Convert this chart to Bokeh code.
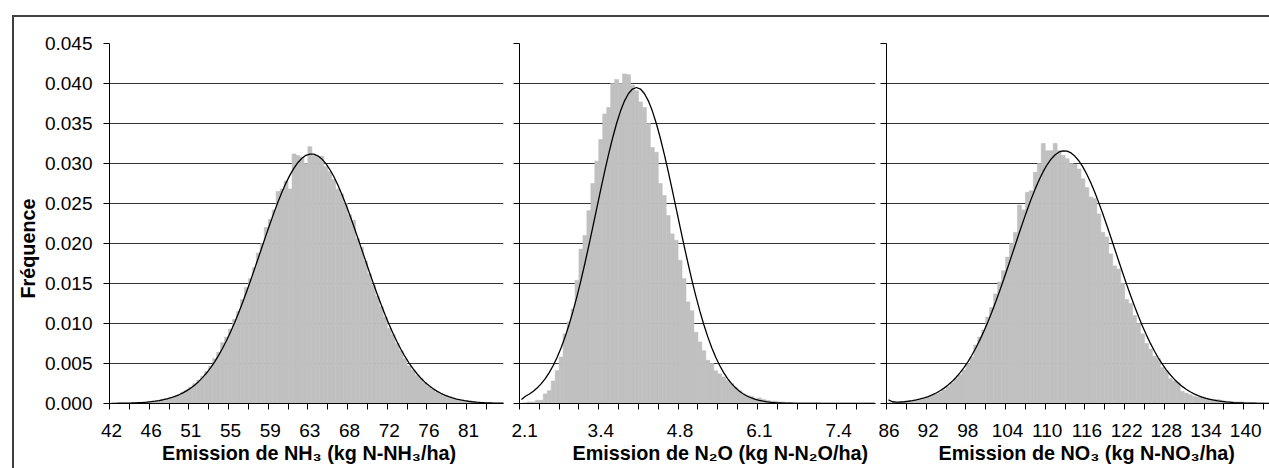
from bokeh.plotting import figure
from bokeh.layouts import row
from bokeh.models import Range1d, FixedTicker, NumeralTickFormatter, Title
from bokeh.embed import file_html
from bokeh.resources import INLINE

FONT = "Liberation Sans"

# ---------------- data ----------------
y_ticks = [0.000, 0.005, 0.010, 0.015, 0.020, 0.025, 0.030, 0.035, 0.040, 0.045]
y_title = "Fréquence"

# Panel 1 : NH3
nh3_start = 42.0
nh3_bin = 0.428
nh3_labels = ["42", "46", "51", "55", "59", "63", "68", "72", "76", "81"]
nh3_title = "Emission de NH₃ (kg N-NH₃/ha)"
nh3_freq = [
    0.00001, 0.00002, 0.00002, 0.00004, 0.00004, 0.00006, 0.00008, 0.00011, 0.00013, 0.00019,
    0.00024, 0.00028, 0.00039, 0.00046, 0.00061, 0.00074, 0.00092, 0.00109, 0.00142, 0.00168,
    0.00205, 0.00248, 0.00290, 0.00340, 0.00400, 0.00470, 0.00560, 0.00640, 0.00760, 0.00830,
    0.00930, 0.01050, 0.01150, 0.01300, 0.01450, 0.01560, 0.01700, 0.01880, 0.02000, 0.02200,
    0.02300, 0.02420, 0.02650, 0.02680, 0.02780, 0.02680, 0.03120, 0.03100, 0.03080, 0.03000,
    0.03210, 0.03100, 0.03090, 0.03090, 0.02960, 0.02900, 0.02800, 0.02680, 0.02620, 0.02500,
    0.02360, 0.02290, 0.02060, 0.01950, 0.01780, 0.01620, 0.01480, 0.01340, 0.01210, 0.01080,
    0.00940, 0.00860, 0.00750, 0.00660, 0.00560, 0.00470, 0.00420, 0.00350, 0.00310, 0.00260,
    0.00210, 0.00180, 0.00140, 0.00120, 0.00095, 0.00078, 0.00064, 0.00050, 0.00040, 0.00032,
    0.00025, 0.00019, 0.00015, 0.00012, 0.00009, 0.00007, 0.00005, 0.00004, 0.00003, 0.00002,
]
nh3_fit = [
    0.00002, 0.00002, 0.00003, 0.00004, 0.00005, 0.00006, 0.00008, 0.00011, 0.00014, 0.00018,
    0.00023, 0.00029, 0.00037, 0.00047, 0.00058, 0.00072, 0.00089, 0.00109, 0.00133, 0.00161,
    0.00194, 0.00232, 0.00276, 0.00327, 0.00384, 0.00449, 0.00521, 0.00602, 0.00691, 0.00788,
    0.00893, 0.01007, 0.01128, 0.01256, 0.01391, 0.01530, 0.01673, 0.01819, 0.01966, 0.02111,
    0.02254, 0.02392, 0.02524, 0.02646, 0.02758, 0.02858, 0.02943, 0.03013, 0.03066, 0.03102,
    0.03118, 0.03117, 0.03096, 0.03057, 0.03001, 0.02928, 0.02840, 0.02737, 0.02623, 0.02498,
    0.02365, 0.02226, 0.02082, 0.01936, 0.01790, 0.01644, 0.01502, 0.01363, 0.01230, 0.01103,
    0.00984, 0.00872, 0.00768, 0.00672, 0.00585, 0.00506, 0.00436, 0.00372, 0.00316, 0.00267,
    0.00224, 0.00187, 0.00155, 0.00128, 0.00105, 0.00086, 0.00069, 0.00056, 0.00045, 0.00036,
    0.00028, 0.00022, 0.00017, 0.00013, 0.00010, 0.00008, 0.00006, 0.00005, 0.00003, 0.00003,
]

# Panel 2 : N2O
n2o_start = 2.1
n2o_bin = 0.0665
n2o_labels = ["2.1", "3.4", "4.8", "6.1", "7.4"]
n2o_title = "Emission de N₂O (kg N-N₂O/ha)"
n2o_freq = [
    0.00005, 0.0001, 0.0002, 0.0002, 0.0004, 0.0004, 0.0012, 0.0016, 0.0028, 0.0041,
    0.0058, 0.0087, 0.0102, 0.0118, 0.0154, 0.0193, 0.0210, 0.0241, 0.0275, 0.0303,
    0.0330, 0.0362, 0.0370, 0.0400, 0.0405, 0.0400, 0.0412, 0.0411, 0.0398, 0.0391,
    0.0377, 0.0370, 0.0350, 0.0320, 0.0314, 0.0275, 0.0260, 0.0235, 0.0212, 0.0204,
    0.0179, 0.0156, 0.0127, 0.0116, 0.0089, 0.0077, 0.0066, 0.0054, 0.0050, 0.0041,
    0.0037, 0.0033, 0.0029, 0.0025, 0.0020, 0.0016, 0.0012, 0.0010, 0.0009, 0.0006,
    0.0007, 0.0005, 0.0004, 0.0003, 0.0003, 0.0002, 0.0002, 0.0001, 0.0001, 0.0001,
    0.0001, 0.0001, 0.0001, 0.0001, 0.0001, 0.0001, 0.00003, 0.00003, 0.00003, 0.00003,
    0.00003, 0.00003, 0.00003, 0.00003, 0.00003, 0.00003, 0.00003, 0.00003, 0.00003, 0.00003,
]
n2o_fit = [
    0.00050, 0.00091, 0.00119, 0.00153, 0.00196, 0.00248, 0.00311, 0.00386, 0.00475, 0.00578,
    0.00697, 0.00833, 0.00985, 0.01154, 0.01340, 0.01540, 0.01753, 0.01977, 0.02209, 0.02443,
    0.02677, 0.02904, 0.03121, 0.03322, 0.03503, 0.03658, 0.03783, 0.03875, 0.03931, 0.03950,
    0.03931, 0.03875, 0.03783, 0.03658, 0.03503, 0.03322, 0.03121, 0.02904, 0.02677, 0.02443,
    0.02209, 0.01977, 0.01753, 0.01540, 0.01340, 0.01154, 0.00985, 0.00833, 0.00697, 0.00578,
    0.00475, 0.00386, 0.00311, 0.00248, 0.00196, 0.00153, 0.00119, 0.00091, 0.00069, 0.00052,
    0.00039, 0.00029, 0.00021, 0.00015, 0.00011, 0.00008, 0.00005, 0.00004, 0.00003, 0.00002,
    0.00001, 0.00001, 0.0, 0.0, 0.0, 0.0, 0.0, 0.0, 0.0, 0.0,
    0.0, 0.0, 0.0, 0.0, 0.0, 0.0, 0.0, 0.0, 0.0, 0.0,
]

# Panel 3 : NO3
no3_start = 86.0
no3_bin = 0.6
no3_labels = ["86", "92", "98", "104", "110", "116", "122", "128", "134", "140"]
no3_title = "Emission de NO₃ (kg N-NO₃/ha)"
no3_freq = [
    0.0001, 0.0001, 0.0001, 0.0002, 0.0002, 0.0003, 0.0003, 0.0004, 0.0005, 0.0006,
    0.0008, 0.0010, 0.0012, 0.0014, 0.0017, 0.0021, 0.0026, 0.0031, 0.0036, 0.0042,
    0.0050, 0.0058, 0.0073, 0.0083, 0.0092, 0.0108, 0.0120, 0.0137, 0.0152, 0.0166,
    0.0183, 0.0200, 0.0214, 0.0248, 0.0242, 0.0264, 0.0266, 0.0289, 0.0300, 0.0325,
    0.0316, 0.0316, 0.0325, 0.0316, 0.0310, 0.0306, 0.0300, 0.0299, 0.0293, 0.0281,
    0.0270, 0.0258, 0.0256, 0.0237, 0.0214, 0.0208, 0.0187, 0.0172, 0.0168, 0.0150,
    0.0130, 0.0125, 0.0110, 0.0100, 0.0087, 0.0075, 0.0068, 0.0059, 0.0056, 0.0045,
    0.0041, 0.0031, 0.0028, 0.0026, 0.0015, 0.0013, 0.0011, 0.0009, 0.0008, 0.0008,
    0.0007, 0.0006, 0.0005, 0.0005, 0.0004, 0.0003, 0.0002, 0.0002, 0.0002, 0.0002,
    0.0001, 0.0001, 0.0001, 0.0001, 0.0001, 0.00005, 0.00005, 0.00005, 0.00005, 0.00005,
]
no3_fit = [
    0.00045, 0.00022, 0.00018, 0.00019, 0.00022, 0.00028, 0.00036, 0.00045, 0.00057, 0.00071,
    0.00087, 0.00107, 0.00131, 0.00159, 0.00192, 0.00230, 0.00274, 0.00325, 0.00383, 0.00448,
    0.00521, 0.00603, 0.00693, 0.00792, 0.00899, 0.01014, 0.01137, 0.01268, 0.01405, 0.01547,
    0.01693, 0.01842, 0.01991, 0.02140, 0.02286, 0.02427, 0.02561, 0.02686, 0.02799, 0.02901,
    0.02987, 0.03057, 0.03109, 0.03144, 0.03159, 0.03155, 0.03132, 0.03090, 0.03031, 0.02954,
    0.02862, 0.02756, 0.02637, 0.02508, 0.02371, 0.02228, 0.02081, 0.01932, 0.01782, 0.01634,
    0.01489, 0.01349, 0.01215, 0.01087, 0.00967, 0.00855, 0.00751, 0.00656, 0.00569, 0.00491,
    0.00421, 0.00359, 0.00304, 0.00256, 0.00214, 0.00178, 0.00147, 0.00121, 0.00099, 0.00080,
    0.00065, 0.00052, 0.00041, 0.00033, 0.00026, 0.00020, 0.00016, 0.00012, 0.00009, 0.00007,
    0.00005, 0.00004, 0.00003, 0.00002, 0.00002, 0.00001, 0.00001, 0.00001, 0.00001, 0.0,
]

# ---------------- drawing ----------------
H = 468
BAR = "#C0C0C0"
GRID = "#333333"
EDGE = "#404040"


def border_css(with_left):
    if with_left:
        return {
            "background-image": f"linear-gradient({EDGE},{EDGE}), linear-gradient({EDGE},{EDGE})",
            "background-repeat": "no-repeat",
            "background-position": "12px 15px, 12px 15px",
            "background-size": "100% 2px, 2px 100%",
        }
    return {
        "background-image": f"linear-gradient({EDGE},{EDGE})",
        "background-repeat": "no-repeat",
        "background-position": "0px 15px",
        "background-size": "100% 2px",
    }


def panel(start, binw, nvis, freq, fit, labels, label_step, n_ticks, title, title_left,
          fig_w, mb_left, mb_right, first):
    n = len(freq)
    lefts = [start + i * binw for i in range(n)]
    rights = [start + (i + 1) * binw for i in range(n)]
    mids = [start + (i + 0.5) * binw for i in range(n)]

    p = figure(width=fig_w, height=H, output_backend="svg", toolbar_location=None,
               x_range=Range1d(start, start + nvis * binw), y_range=Range1d(0, 0.045),
               min_border_left=mb_left, min_border_right=mb_right,
               min_border_top=43, min_border_bottom=65,
               styles=border_css(first))
    p.outline_line_color = None
    p.background_fill_color = "white"
    p.border_fill_color = None

    p.quad(left=lefts, right=rights, bottom=0, top=freq,
           fill_color=BAR, line_color=BAR, line_width=0.6)
    p.line(mids, fit, line_color="black", line_width=1.3)

    # x axis: tick marks every 5 classes, labels centred on labelled classes
    tick_pos = [round(start + 5 * k * binw, 6) for k in range(n_ticks)]
    lab_pos = [round(start + (label_step * k + 0.5) * binw, 6) for k in range(len(labels))]
    xa = p.xaxis[0]
    xa.ticker = FixedTicker(ticks=lab_pos, minor_ticks=tick_pos)
    xa.major_label_overrides = {pos: txt for pos, txt in zip(lab_pos, labels)}
    xa.major_tick_line_color = None
    xa.major_tick_out = 6
    xa.major_tick_in = 0
    xa.minor_tick_out = 6
    xa.minor_tick_in = 0
    xa.minor_tick_line_color = "black"
    xa.axis_line_color = "black"
    xa.major_label_standoff = 14
    xa.major_label_text_font = FONT
    xa.major_label_text_font_size = "19px"
    xa.major_label_text_color = "black"

    ya = p.yaxis[0]
    ya.ticker = FixedTicker(ticks=y_ticks)
    ya.major_tick_out = 6
    ya.major_tick_in = 0
    ya.minor_tick_line_color = None
    ya.axis_line_color = "black"
    ya.major_tick_line_color = "black"
    if first:
        ya.formatter = NumeralTickFormatter(format="0.000")
        ya.major_label_standoff = 11
        ya.major_label_text_font = FONT
        ya.major_label_text_font_size = "19px"
        ya.major_label_text_color = "black"
    else:
        ya.major_label_overrides = {t: "" for t in y_ticks}
        ya.major_label_standoff = 0
        ya.major_label_text_font_size = "0px"

    p.xgrid.visible = False
    p.ygrid.ticker = FixedTicker(ticks=y_ticks)
    p.ygrid.grid_line_color = GRID
    p.ygrid.grid_line_width = 1

    p.add_layout(Title(text=title, align="left", offset=title_left, standoff=4,
                       vertical_align="top",
                       text_font=FONT, text_font_style="bold",
                       text_font_size="19.8px", text_color="black"), "below")
    return p


p1 = panel(nh3_start, nh3_bin, 99.3, nh3_freq, nh3_fit, nh3_labels, 10, 20, nh3_title, 52.5,
           511, 109, 8, True)
p1.add_layout(Title(text=y_title, align="left", offset=105, standoff=6,
                    text_font=FONT, text_font_style="bold", text_font_size="19.8px",
                    text_color="black"), "left")
p2 = panel(n2o_start, n2o_bin, 89.8, n2o_freq, n2o_fit, n2o_labels, 20, 19, n2o_title, 53,
           367, 8, 3, False)
p3 = panel(no3_start, no3_bin, 96.5, no3_freq, no3_fit, no3_labels, 10, 20, no3_title, 52,
           391, 8, 0, False)

layout = row(p1, p2, p3, spacing=0)
open("out.html", "w").write(file_html(layout, INLINE))
